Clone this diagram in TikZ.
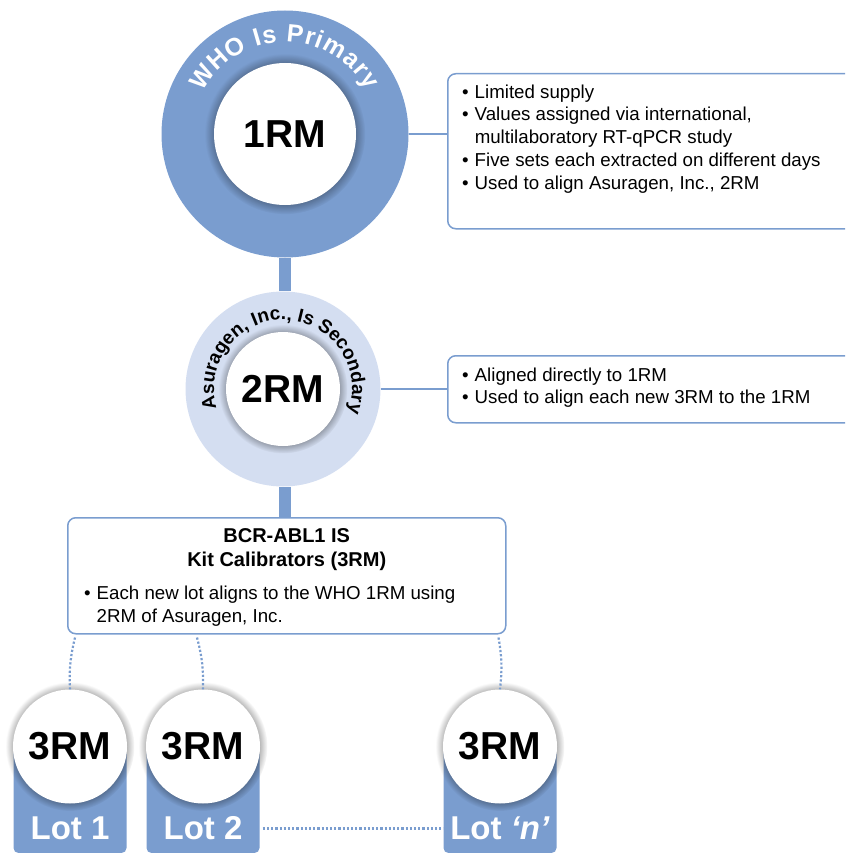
\documentclass[tikz,border=0pt]{standalone}
\usepackage{fontspec}
\setmainfont{Liberation Sans}
\usepackage{xcolor}
\usetikzlibrary{positioning, shadows, fadings, decorations.text}

\definecolor{ringblue}{RGB}{122,157,207}
\definecolor{ringpale}{RGB}{212,222,241}
\newcommand\rmbig{\bfseries\fontsize{39}{40}\selectfont}
\newcommand\whofont{\color{white}\bfseries\fontsize{25}{28}\selectfont}
\newcommand\asrfont{\color{black}\bfseries\fontsize{19}{21}\selectfont}

\begin{document}
\begin{tikzpicture}[x=1pt, y=1pt,
  ring/.style={circle, fill=ringblue, inner sep=0pt},
  core/.style={circle, fill=white, inner sep=0pt, font=\rmbig,
    general shadow={shadow scale=1.13, fill=black, opacity=0.45,
      path fading={circle with fuzzy edge 20 percent}}},
  infobox/.style={draw=ringblue, line width=1.5pt, rounded corners=8pt, inner sep=0pt},
  bullets/.style={inner sep=0pt, font=\fontsize{18.7}{22.75}\selectfont},
  link/.style={draw=ringblue, line width=1.5pt},
  bar/.style={draw=ringblue, line width=12pt},
  dots/.style={draw=ringblue, line width=2.2pt, dotted},
  lotbox/.style={fill=ringblue, rounded corners=5pt, minimum width=113pt,
    minimum height=104pt, inner sep=0pt},
  lotlabel/.style={text=white, font=\bfseries\fontsize{33}{33}\selectfont}]

  % page frame
  \useasboundingbox (0,0) rectangle (845,-853);
  \clip (0,0) rectangle (845,-853);

  % primary ring
  \node[ring, minimum size=247pt] (whoring) at (285,-134) {};
  \node[core, minimum size=142pt] (one) at (whoring) {1RM};
  \path[decorate, decoration={text along path, text align=fit to path,
      text={|\whofont|WHO Is Primary}}]
    ([shift={(153:92)}]whoring.center) arc[start angle=153, end angle=28, radius=92];

  % secondary ring
  \node[ring, fill=ringpale, minimum size=195pt] (asrring) at (283,-389) {};
  \node[core, minimum size=114pt] (two) at (asrring) {2RM};
  \path[decorate, decoration={text along path, text align=fit to path,
      text={|\asrfont|Asuragen, Inc., Is Secondary}}]
    ([shift={(196:69)}]asrring.center) arc[start angle=196, end angle=-18, radius=69];

  % info boxes right
  \node[infobox, minimum width=430pt, minimum height=155pt, anchor=north west] (box1) at (447,-73) {};
  \node[bullets, below right=9pt and 15pt of box1.north west] (list1) {%
    \begin{tabular}{@{}l@{\hspace{6pt}}l@{}}
      • & Limited supply\\
      • & Values assigned via international,\\
        & multilaboratory RT-qPCR study\\
      • & Five sets each extracted on different days\\
      • & Used to align Asuragen, Inc., 2RM
    \end{tabular}};

  \node[infobox, minimum width=430pt, minimum height=67pt, anchor=north west] (box2) at (447,-355) {};
  \node[bullets, below right=10pt and 15pt of box2.north west] (list2) {%
    \begin{tabular}{@{}l@{\hspace{6pt}}l@{}}
      • & Aligned directly to 1RM\\
      • & Used to align each new 3RM to the 1RM
    \end{tabular}};

  \draw[link] (whoring.east) -- (whoring.east -| box1.west);
  \draw[link] (asrring.east) -- (asrring.east -| box2.west);

  % kit calibrators
  \node[infobox, minimum width=438pt, minimum height=116pt, anchor=north west] (kit) at (67,-517) {};
  \node[inner sep=0pt, font=\bfseries\fontsize{20}{24}\selectfont, below=8pt of kit.north] (kittitle) {%
    \begin{tabular}{@{}c@{}}
      BCR-ABL1 IS\\
      Kit Calibrators (3RM)
    \end{tabular}};
  \node[bullets, font=\fontsize{18.7}{23}\selectfont, below right=66pt and 17pt of kit.north west] (list3) {%
    \begin{tabular}{@{}l@{\hspace{6pt}}l@{}}
      • & Each new lot aligns to the WHO 1RM using\\
        & 2RM of Asuragen, Inc.
    \end{tabular}};

  % thick bars
  \draw[bar] (whoring.south) -- (whoring.south |- asrring.north);
  \draw[bar] (whoring.south |- asrring.south) -- (whoring.south |- kit.north);

  % lots
  \node[lotbox] (lotbg1) at (70,-801) {};
  \node[lotbox] (lotbg2) at (203,-801) {};
  \node[lotbox] (lotbgn) at (500,-801) {};
  \node[core, minimum size=114pt] (lot1) at (70,-746.5) {3RM};
  \node[core, minimum size=114pt] (lot2) at (203,-746.5) {3RM};
  \node[core, minimum size=114pt] (lotn) at (500,-746.5) {3RM};
  \node[lotlabel] (lab1) at (70,-828) {Lot 1};
  \node[lotlabel] (lab2) at (203,-828) {Lot 2};
  \node[lotlabel] (labn) at (500,-828) {Lot \textit{‘n’}};

  % dotted links
  \coordinate (k1) at ([xshift=8pt, yshift=-3pt]kit.south west);
  \coordinate (k2) at ([xshift=130pt, yshift=-3pt]kit.south west);
  \coordinate (kn) at ([xshift=-8pt, yshift=-3pt]kit.south east);
  \draw[dots] (k1) to[bend right=8] (lot1.north);
  \draw[dots] (k2) to[bend left=8] (lot2.north);
  \draw[dots] (kn) to[bend left=8] (lotn.north);
  \draw[dots, line width=3pt, shorten <=3pt] (lotbg2.east |- lab2) -- (lotbgn.west |- lab2);
\end{tikzpicture}
\end{document}
